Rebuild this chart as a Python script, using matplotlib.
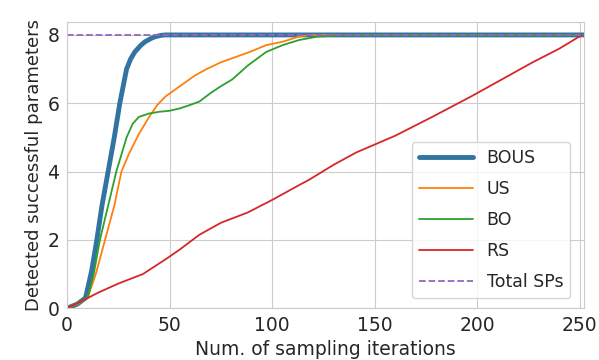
import matplotlib
matplotlib.use("Agg")
import matplotlib.pyplot as plt
import seaborn as sns

bous_x = [0, 5, 9, 12, 14.5, 17, 20, 23, 25.7, 29, 31, 33, 36, 38, 41, 43, 46, 48, 252]
bous_y = [0, 0.12, 0.3, 1.1, 2.0, 3.0, 4.0, 5.0, 6.0, 7.0, 7.3, 7.5, 7.7, 7.8, 7.9, 7.95, 7.99, 8.0, 8.0]

us_x = [0, 5, 10, 14, 18.5, 23, 26.5, 30, 35, 40, 44, 48, 55, 62, 68, 75, 82, 89, 97, 105, 113, 118, 252]
us_y = [0, 0.12, 0.3, 1.0, 2.0, 3.0, 4.0, 4.5, 5.1, 5.6, 5.95, 6.2, 6.5, 6.8, 7.0, 7.2, 7.35, 7.5, 7.7, 7.8, 7.95, 8.0, 8.0]

bo_x = [0, 5, 10, 13, 16, 20, 24, 27, 29, 32, 35, 40, 45, 50, 55, 60, 64.5, 70, 75, 80.6, 88, 97, 105, 113, 122, 130, 135, 252]
bo_y = [0, 0.15, 0.3, 1.0, 2.0, 3.0, 4.0, 4.6, 5.0, 5.4, 5.6, 5.7, 5.75, 5.78, 5.85, 5.95, 6.05, 6.3, 6.5, 6.7, 7.1, 7.5, 7.7, 7.85, 7.95, 7.98, 8.0, 8.0]

rs_x = [0, 6, 15, 25, 37, 48.5, 55, 64.5, 75, 88, 100, 113, 118, 130, 141, 160, 178, 197, 212, 227, 240, 251]
rs_y = [0, 0.17, 0.45, 0.72, 1.0, 1.45, 1.72, 2.15, 2.5, 2.8, 3.17, 3.6, 3.76, 4.2, 4.56, 5.05, 5.6, 6.2, 6.7, 7.2, 7.6, 8.0]

total_x = [0, 252]
total_y = [8, 8]

sns.set_style("whitegrid")

fig = plt.figure(figsize=(5.99, 3.6), dpi=100)
ax = fig.add_axes([0.112, 0.144, 0.863, 0.795])

ax.plot(bous_x, bous_y, color="#3274a1", lw=3.5, label="BOUS")
ax.plot(us_x, us_y, color="#ff7f0e", lw=1.3, label="US")
ax.plot(bo_x, bo_y, color="#2ca02c", lw=1.3, label="BO")
ax.plot(rs_x, rs_y, color="#d62728", lw=1.3, label="RS")
ax.plot(total_x, total_y, color="#9467bd", lw=1.3, ls="--", label="Total SPs")

ax.set_xlim(0, 252)
ax.set_ylim(0, 8.38)
ax.set_xticks([0, 50, 100, 150, 200, 250])
ax.set_yticks([0, 2, 4, 6, 8])
ax.tick_params(labelsize=13.5, pad=2)
ax.set_xlabel("Num. of sampling iterations", fontsize=13.5, labelpad=4)
ax.set_ylabel("Detected successful parameters", fontsize=13, labelpad=3)
for s in ax.spines.values():
    s.set_color("#cccccc")
ax.legend(loc="lower right", fontsize=12.5, handlelength=3.1, labelspacing=0.75,
          bbox_to_anchor=(0.99, 0.005), frameon=True)

fig.savefig("out.png", dpi=100)
